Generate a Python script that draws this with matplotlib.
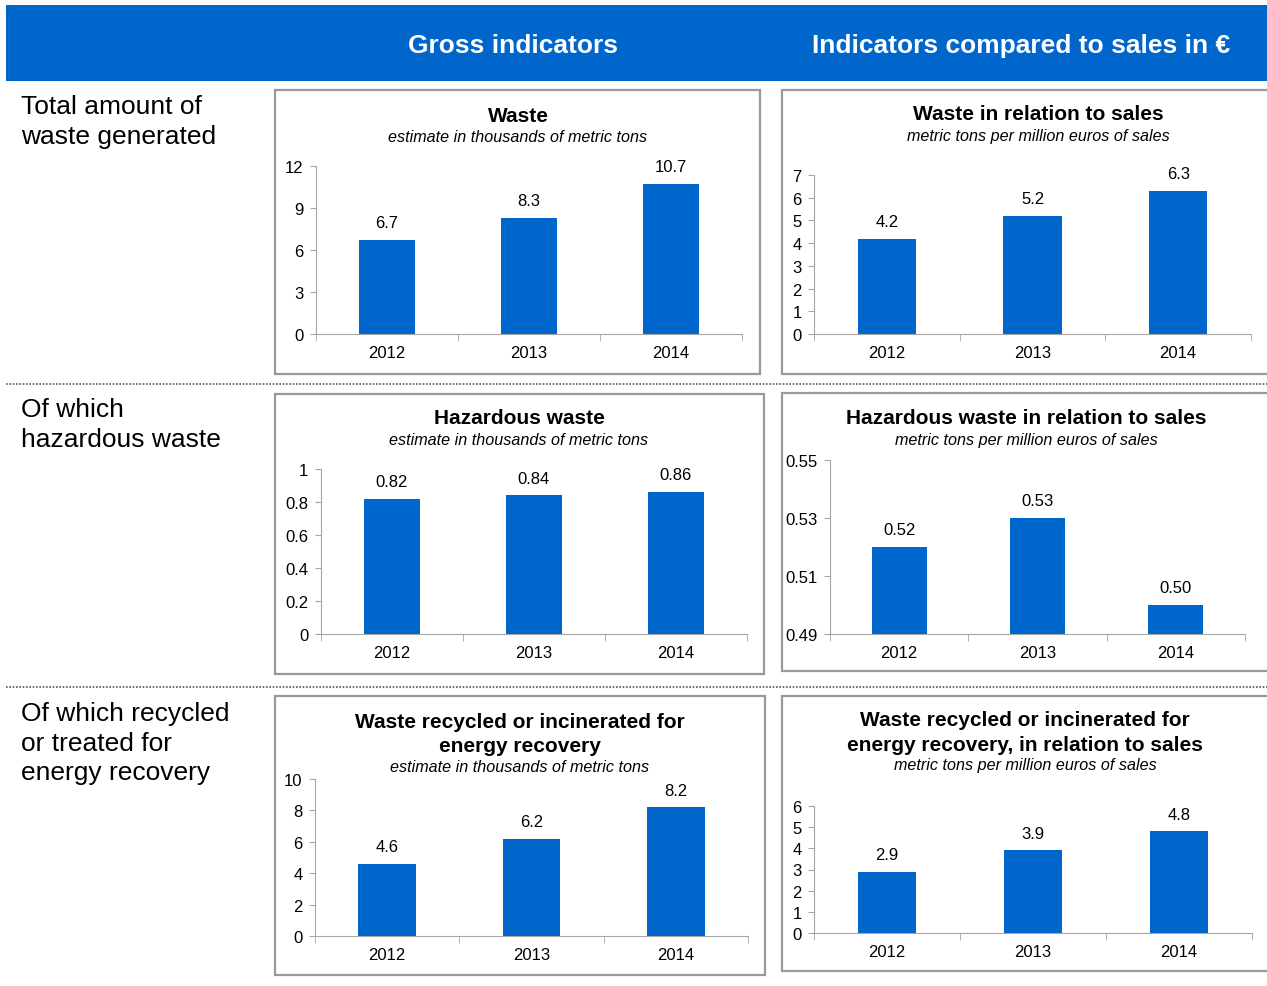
import matplotlib
matplotlib.use('Agg')
import matplotlib.pyplot as plt
from matplotlib.patches import Rectangle
import numpy as np

plt.rcParams['font.family'] = ['Liberation Sans', 'DejaVu Sans']

W, H = 1267, 987
BLUE = '#0066CC'
GRAY = '#a6a6a6'

years = ['2012', '2013', '2014']

waste_total = [6.7, 8.3, 10.7]
waste_per_sales = [4.2, 5.2, 6.3]
hazardous_total = [0.82, 0.84, 0.86]
hazardous_per_sales = [0.52, 0.53, 0.50]
recycled_total = [4.6, 6.2, 8.2]
recycled_per_sales = [2.9, 3.9, 4.8]

header_labels = ['Gross indicators', 'Indicators compared to sales in €']
row_labels = ['Total amount of\nwaste generated',
              'Of which\nhazardous waste',
              'Of which recycled\nor treated for\nenergy recovery']

sub_gross = 'estimate in thousands of metric tons'
sub_sales = 'metric tons per million euros of sales'

fig = plt.figure(figsize=(W / 100, H / 100), dpi=100)


def fx(x):
    return x / W


def fy(y):
    return 1 - y / H


def box(x0, y0, x1, y1, **kw):
    fig.patches.append(Rectangle((fx(x0), fy(y1)), fx(x1) - fx(x0), fy(y0) - fy(y1),
                                 transform=fig.transFigure, zorder=-5, **kw))


# header band
box(6, 6, 1267, 82, facecolor=BLUE, edgecolor='none')
fig.text(fx(513), fy(46), header_labels[0], color='white', fontsize=19,
         fontweight='bold', ha='center', va='center')
fig.text(fx(1021), fy(46), header_labels[1], color='white', fontsize=19,
         fontweight='bold', ha='center', va='center')

# row labels
for label, ytop in zip(row_labels, [95, 398, 702]):
    fig.text(fx(21), fy(ytop), label, fontsize=19, ha='left', va='top',
             linespacing=1.3)

# dotted separators
for ysep in [385, 688]:
    fig.add_artist(plt.Line2D([fx(6), fx(1267)], [fy(ysep), fy(ysep)],
                              transform=fig.transFigure, color='#555555',
                              lw=1.2, ls=(0, (1, 1))))


def panel(frame, axpos, values, ylim, yticks, yticklabels, fmt,
          title, subtitle, title_y, sub_y, title_x):
    x0, y0, x1, y1 = frame
    box(x0, y0, x1, y1, facecolor='white', edgecolor='#999999', lw=1.6)
    ax_x0, ax_y0, ax_x1, ax_y1 = axpos
    ax = fig.add_axes([fx(ax_x0), fy(ax_y1), fx(ax_x1) - fx(ax_x0),
                       fy(ax_y0) - fy(ax_y1)])
    ax.set_zorder(2)
    ax.patch.set_alpha(0)
    x = np.arange(len(years))
    ax.bar(x, [v - ylim[0] for v in values], 0.4, bottom=ylim[0], color=BLUE)
    ax.set_xlim(-0.5, len(years) - 0.5)
    ax.set_ylim(*ylim)
    ax.set_yticks(yticks)
    ax.set_yticklabels(yticklabels)
    ax.set_xticks(x)
    ax.set_xticklabels(years)
    ax.set_xticks(np.arange(len(years) + 1) - 0.5, minor=True)
    ax.tick_params(axis='x', which='major', length=0, pad=8, labelsize=12)
    ax.tick_params(axis='x', which='minor', length=5, color=GRAY, direction='out')
    ax.tick_params(axis='y', length=4, color=GRAY, pad=5, labelsize=12)
    for s in ['top', 'right']:
        ax.spines[s].set_visible(False)
    for s in ['left', 'bottom']:
        ax.spines[s].set_color(GRAY)
    for xi, v in zip(x, values):
        ax.annotate(fmt.format(v), (xi, v), xytext=(0, 7), textcoords='offset points',
                    ha='center', va='bottom', fontsize=12)
    for i, line in enumerate(title.split('\n')):
        fig.text(fx(title_x), fy(title_y + 25 * i), line, fontsize=15, fontweight='bold',
                 ha='center', va='center')
    fig.text(fx(title_x), fy(sub_y), subtitle, fontsize=11.6, style='italic',
             ha='center', va='center')
    return ax


panel((275, 91, 760, 375), (316, 167, 742, 335), waste_total,
      (0, 12), [0, 3, 6, 9, 12], ['0', '3', '6', '9', '12'], '{:.1f}',
      'Waste', sub_gross, 116, 138, 518)

panel((782, 91, 1275, 375), (814, 176, 1251, 335), waste_per_sales,
      (0, 7), list(range(8)), [str(i) for i in range(8)], '{:.1f}',
      'Waste in relation to sales', sub_sales, 115, 137, 1038)

panel((275, 395, 764, 675), (321, 470, 747, 635), hazardous_total,
      (0, 1), [0, 0.2, 0.4, 0.6, 0.8, 1], ['0', '0.2', '0.4', '0.6', '0.8', '1'], '{:.2f}',
      'Hazardous waste', sub_gross, 419, 441, 519)

panel((782, 394, 1275, 672), (830, 461, 1245, 635), hazardous_per_sales,
      (0.49, 0.55), [0.49, 0.51, 0.53, 0.55], ['0.49', '0.51', '0.53', '0.55'], '{:.2f}',
      'Hazardous waste in relation to sales', sub_sales, 419, 441, 1026)

panel((275, 697, 765, 976), (315, 780, 748, 937), recycled_total,
      (0, 10), [0, 2, 4, 6, 8, 10], ['0', '2', '4', '6', '8', '10'], '{:.1f}',
      'Waste recycled or incinerated for\nenergy recovery', sub_gross, 722, 768, 520)

panel((782, 697, 1275, 972), (814, 807, 1252, 934), recycled_per_sales,
      (0, 6), list(range(7)), [str(i) for i in range(7)], '{:.1f}',
      'Waste recycled or incinerated for\nenergy recovery, in relation to sales', sub_sales,
      721, 766, 1025)

fig.savefig('out.png', dpi=100)
